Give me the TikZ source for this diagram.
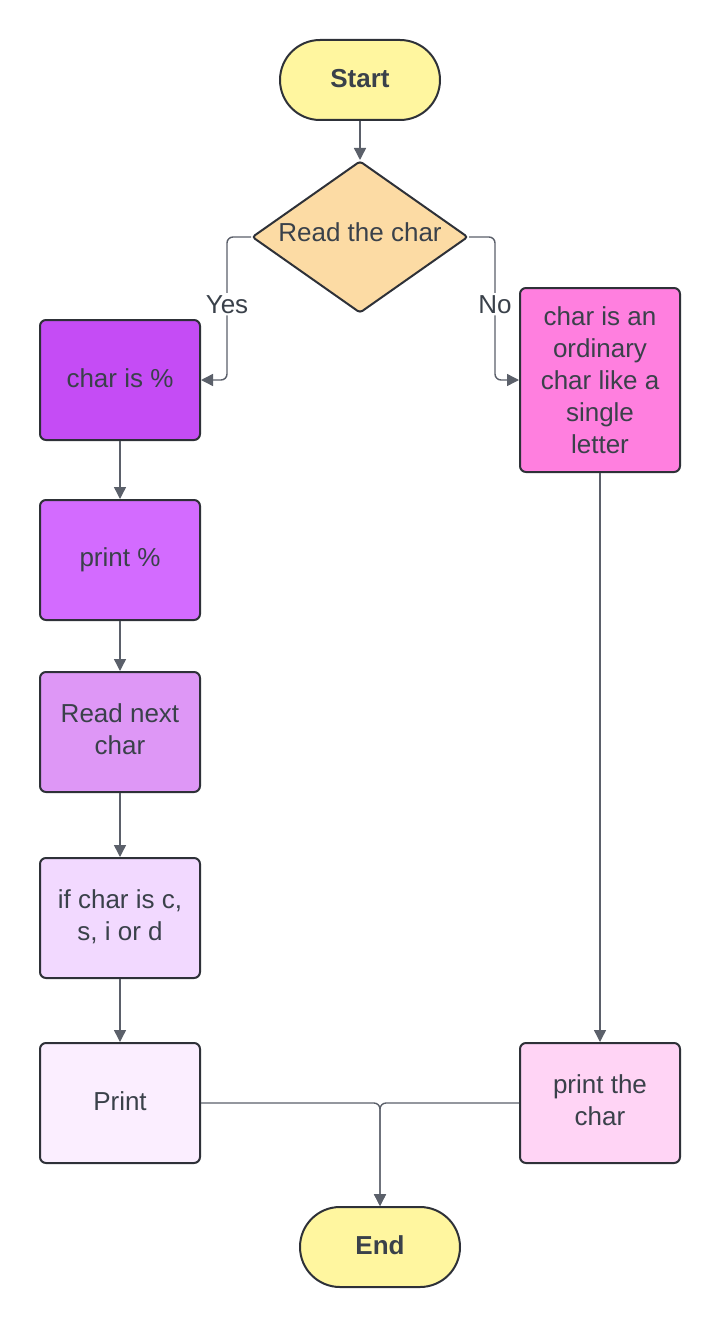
\documentclass[tikz,border=0pt]{standalone}
\usepackage{fontspec}
\setmainfont{Liberation Sans}
\usetikzlibrary{shapes.geometric,arrows.meta}
\definecolor{edge}{HTML}{2E3138}
\definecolor{txt}{HTML}{3A414A}
\definecolor{wire}{HTML}{5B606A}
\definecolor{termyel}{HTML}{FFF69F}
\definecolor{readorg}{HTML}{FCDBA4}
\definecolor{pctcol}{HTML}{C54CF5}
\definecolor{prtcol}{HTML}{D36BFF}
\definecolor{nextcol}{HTML}{DE97F6}
\definecolor{ifcol}{HTML}{F2D9FF}
\definecolor{printcol}{HTML}{FBEEFF}
\definecolor{ordcol}{HTML}{FF7FDF}
\definecolor{pchcol}{HTML}{FFD4F5}

\begin{document}
\begin{tikzpicture}[x=0.5pt,y=-0.5pt,
        every node/.style={font=\fontsize{13}{16}\selectfont, text=txt},
        term/.style={draw=edge, line width=1pt, fill=termyel, rounded corners=20pt, minimum width=80pt, minimum height=40pt, text depth=2pt, font=\fontsize{13}{16}\selectfont\bfseries},
        decide/.style={diamond, draw=edge, line width=1pt, fill=readorg, aspect=1.42, inner sep=0pt, minimum width=108pt, minimum height=76pt, text depth=5pt, rounded corners=1.5pt},
        proc/.style={draw=edge, line width=1pt, rounded corners=3pt, minimum width=80pt, minimum height=60pt, align=center},
        conn/.style={draw=wire, line width=0.7pt, rounded corners=3pt, -{Triangle[length=6pt,width=6pt]}},
        lbl/.style={fill=white, inner sep=1pt, pos=0.47}]
        \useasboundingbox (0,0) rectangle (720,1327);
        \node[term] (start) at (360,80) {Start};
        \node[decide] (read) at (360,237) {Read the char};
        \node[proc, fill=pctcol, text depth=1.5pt] (pct) at (120,380) {char is \%};
        \node[proc, fill=prtcol] (prtpct) at (120,560) {print \%};
        \node[proc, fill=nextcol, text depth=3pt] (next) at (120,732) {Read next\\char};
        \node[proc, fill=ifcol, text depth=3pt] (ifchar) at (120,918) {if char is c,\\s, i or d};
        \node[proc, fill=printcol, text depth=1.5pt] (prt) at (120,1103) {Print};
        \node[proc, fill=ordcol, minimum height=92pt] (ord) at (600,380) {char is an\\ordinary\\char like a\\single\\letter};
        \node[proc, fill=pchcol, text depth=3pt] (prtchar) at (600,1103) {print the\\char};
        \node[term] (end) at (380,1247) {End};
        \draw[conn] (start) -- (read);
        \draw[conn] (read.west) -- ++(-24,0) -- node[lbl] {Yes} ++(0,143) -- (pct.east);
        \draw[conn] (read.east) -- ++(26,0) -- node[lbl] {No} ++(0,143) -- (ord.west);
        \draw[conn] (pct) -- (prtpct);
        \draw[conn] (prtpct) -- (next);
        \draw[conn] (next) -- (ifchar);
        \draw[conn] (ifchar) -- (prt);
        \draw[conn] (ord) -- (prtchar);
        \draw[conn] (prt.east) -| (end.north);
        \draw[conn] (prtchar.west) -| (end.north);
\end{tikzpicture}
\end{document}
